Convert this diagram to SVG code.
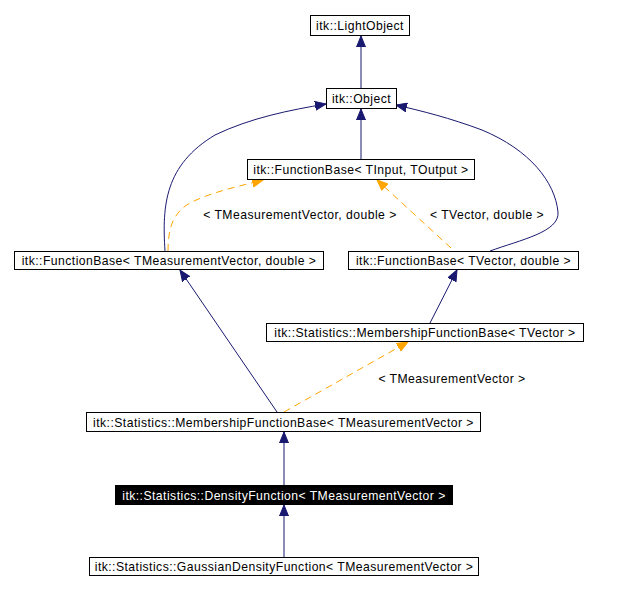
<svg xmlns="http://www.w3.org/2000/svg" width="638" height="590" viewBox="0 0 638 590">
<style>
.box{fill:#fff;stroke:#000;stroke-width:1}
.dark{fill:#000;stroke:#000}
text{font-family:"Liberation Sans",Arial,sans-serif;font-size:12.2px;letter-spacing:0.45px;text-anchor:middle}
.w{fill:#fff}
.inh{fill:none;stroke:#191970;stroke-width:1}
.tpl{fill:none;stroke:#ffa500;stroke-width:1;stroke-dasharray:7,5}
</style>
<defs>
<marker id="ab" markerUnits="userSpaceOnUse" markerWidth="12" markerHeight="10" refX="11" refY="5" orient="auto"><path d="M0,0.5 L11,5 L0,9.5 z" fill="#191970" stroke="#191970"/></marker>
<marker id="ao" markerUnits="userSpaceOnUse" markerWidth="12" markerHeight="10" refX="11" refY="5" orient="auto"><path d="M0,0.5 L11,5 L0,9.5 z" fill="#ffa500" stroke="#ffa500"/></marker>
</defs>
<rect width="638" height="590" fill="#fff"/>
<g id="connectors">
<path class="inh" d="M361,89 L361,36" marker-end="url(#ab)"/>
<path class="inh" d="M361,159 L361,109" marker-end="url(#ab)"/>
<path class="inh" d="M165,251 C162,205 165,165 215,135 C250,118 290,110 326,104" marker-end="url(#ab)"/>
<path class="inh" d="M490,251 C520,240 560,232 558,212 C555,182 530,150 482,130 C450,118 422,111 396,105" marker-end="url(#ab)"/>
<path class="tpl" d="M168,251 C168,230 172,212 192,202 C212,192 240,186 263,180" marker-end="url(#ao)"/>
<path class="tpl" d="M451,248 L377,180" marker-end="url(#ao)"/>
<path class="inh" d="M277,412 L180,270" marker-end="url(#ab)"/>
<path class="inh" d="M430,323 L457,270" marker-end="url(#ab)"/>
<path class="tpl" d="M284,412 L408,342" marker-end="url(#ao)"/>
<path class="inh" d="M284,485 L284,432" marker-end="url(#ab)"/>
<path class="inh" d="M284,557 L284,505" marker-end="url(#ab)"/>
<text x="300" y="219">&lt; TMeasurementVector, double &gt;</text>
<text x="487" y="219">&lt; TVector, double &gt;</text>
<text x="452" y="383">&lt; TMeasurementVector &gt;</text>
</g>
<g id="lightobject"><rect class="box" x="310.5" y="15.5" width="99" height="20"/><text x="360" y="30">itk::LightObject</text></g>
<g id="object"><rect class="box" x="326.5" y="88.5" width="70" height="20"/><text x="361.5" y="103">itk::Object</text></g>
<g id="fb_inout"><rect class="box" x="247.5" y="159.5" width="227" height="20"/><text x="361" y="174">itk::FunctionBase&lt; TInput, TOutput &gt;</text></g>
<g id="fb_mv"><rect class="box" x="14.5" y="251.5" width="309" height="18"/><text x="169" y="265">itk::FunctionBase&lt; TMeasurementVector, double &gt;</text></g>
<g id="fb_v"><rect class="box" x="348.5" y="251.5" width="230" height="18"/><text x="463.5" y="265">itk::FunctionBase&lt; TVector, double &gt;</text></g>
<g id="mfb_v"><rect class="box" x="266.5" y="323.5" width="317" height="18"/><text x="425" y="337">itk::Statistics::MembershipFunctionBase&lt; TVector &gt;</text></g>
<g id="mfb_mv"><rect class="box" x="86.5" y="412.5" width="394" height="19"/><text x="283.5" y="426.5">itk::Statistics::MembershipFunctionBase&lt; TMeasurementVector &gt;</text></g>
<g id="density"><rect class="dark" x="115.5" y="485.5" width="337" height="19"/><text class="w" x="284" y="499.5">itk::Statistics::DensityFunction&lt; TMeasurementVector &gt;</text></g>
<g id="gaussian"><rect class="box" x="89.5" y="557.5" width="389" height="18"/><text x="284" y="571">itk::Statistics::GaussianDensityFunction&lt; TMeasurementVector &gt;</text></g>
</svg>
